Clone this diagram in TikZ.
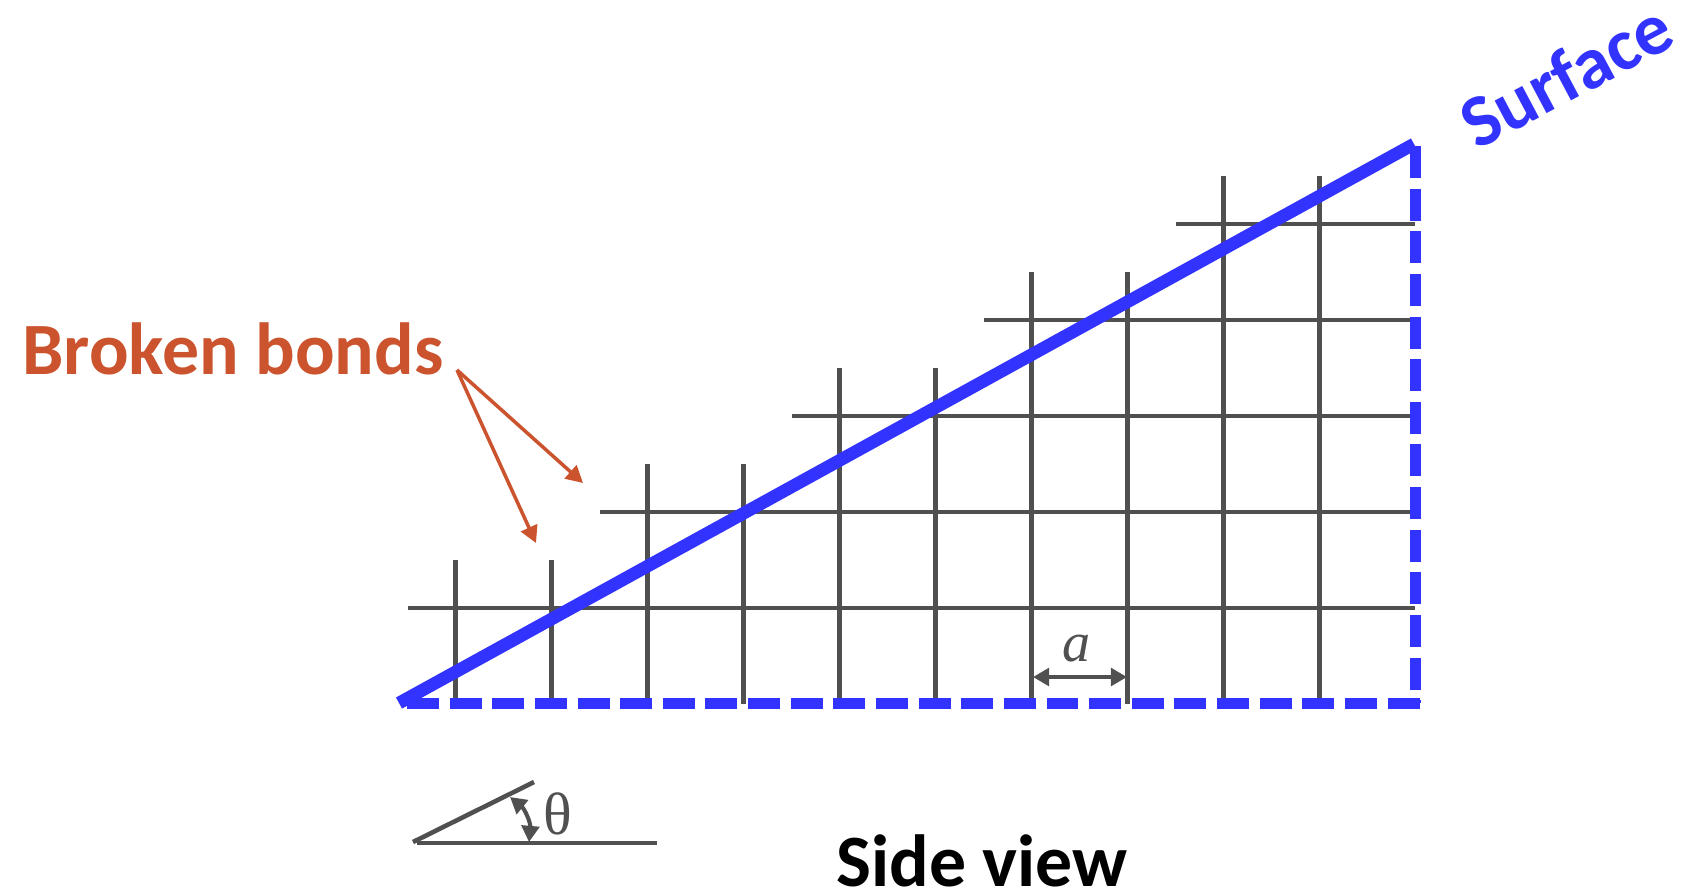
\documentclass[tikz,border=0pt]{standalone}
\usepackage{fontspec}
\usepackage{xcolor}
\setmainfont{Carlito}
\newfontfamily\serifsym{Liberation Serif}
\usetikzlibrary{arrows.meta, calc}
\definecolor{latticeGray}{RGB}{80,80,80}
\definecolor{surfaceBlue}{RGB}{51,51,255}
\definecolor{bondOrange}{RGB}{203,83,46}

\begin{document}
\begin{tikzpicture}[
      bond/.style={draw=latticeGray, line width=1.3pt},
      surf/.style={draw=surfaceBlue, line width=3.6pt},
      cut/.style={draw=surfaceBlue, line width=3.05pt, dash pattern=on 9.1pt off 3.03pt},
      pointer/.style={-{Triangle[length=4.8pt, width=5pt]}, draw=bondOrange, line width=1pt},
      span/.style={{Triangle[length=4.6pt, width=5pt]}-{Triangle[length=4.6pt, width=5pt]}, draw=latticeGray, line width=1.15pt},
      title/.style={font=\fontsize{21}{21}\selectfont\bfseries, inner sep=0pt}
    ]
    \useasboundingbox (0,0) rectangle (16.81,-8.94);

    \foreach \x/\ytop in {4.555/5.6, 5.515/5.6, 6.475/4.64, 7.435/4.64, 8.395/3.68, 9.355/3.68, 10.315/2.72, 11.275/2.72, 12.235/1.76, 13.195/1.76} {
      \draw[bond] (\x,-\ytop) -- (\x,-7.04);
    }
    \foreach \xl/\y in {4.075/6.08, 5.995/5.12, 7.915/4.16, 9.835/3.2, 11.755/2.24} {
      \draw[bond] (\xl,-\y) -- (14.15,-\y);
    }

    % triangle of the cut
    \coordinate (low) at (3.99,-7.03);
    \coordinate (high) at (14.14,-1.44);
    \coordinate (baseL) at (4.07,-7.035);
    \coordinate (baseR) at (14.2,-7.035);
    \coordinate (sideT) at (14.155,-1.46);
    \coordinate (sideB) at (14.155,-7.03);
    \draw[cut] (baseL) -- (baseR);
    \draw[cut] (sideT) -- (sideB);
    \draw[surf] (low) -- (high);

    \node[title, text=surfaceBlue, rotate=28] (surface) at (15.66,-0.75) {Surface};
    \node[title, text=bondOrange] (broken) at (2.33,-3.485) {Broken bonds};
    \node[title, text=black] (side) at (9.82,-8.61) {Side view};

    \coordinate (root) at (4.57,-3.7);
    \coordinate (tipA) at (5.83,-4.83);
    \coordinate (tipB) at (5.36,-5.43);
    \draw[pointer] (root) -- (tipA);
    \draw[pointer] (root) -- (tipB);

    % lattice constant
    \coordinate (spanL) at (10.33,-6.77);
    \coordinate (spanR) at (11.27,-6.77);
    \draw[span] (spanL) -- (spanR);
    \node[font=\fontsize{16}{20}\selectfont\serifsym\itshape, text=latticeGray] (alabel) at (10.77,-6.49) {a};

    % tilt angle
    \coordinate (apex) at (4.13,-8.42);
    \coordinate (rayEnd) at (5.34,-7.82);
    \coordinate (flatL) at (4.17,-8.43);
    \coordinate (flatR) at (6.57,-8.43);
    \coordinate (arcA) at (5.29,-8.42);
    \coordinate (arcB) at (5.1,-7.97);
    \draw[bond] (apex) -- (rayEnd);
    \draw[bond] (flatL) -- (flatR);
    \draw[span] (arcA) to[bend right=28] (arcB);
    \node[font=\fontsize{17}{20}\selectfont\serifsym, text=latticeGray] (theta) at (5.58,-8.14) {θ};
  \end{tikzpicture}
\end{document}
